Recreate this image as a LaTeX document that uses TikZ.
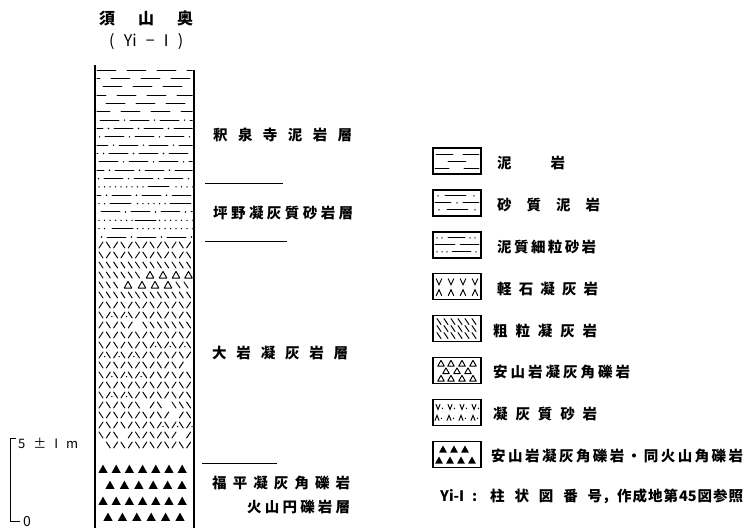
\documentclass[tikz,border=0pt]{standalone}
\usepackage{fontspec}
\setmainfont{Noto Sans CJK JP}
\usetikzlibrary{calc}

% pattern symbols: x, y
\newcommand\symL[2]{\draw[pat] ({#1-2},{#2+3}) -- ({#1+2},{#2-3});}
\newcommand\symB[2]{\draw[pat] ({#1-2},{#2-3}) -- ({#1+2},{#2+3});}
\newcommand\symP[2]{\symL{#1}{#2}\fill ({#1+3.6},{#2+1.5}) circle (0.75);}
\newcommand\symQ[2]{\symB{#1}{#2}\fill ({#1+3.6},{#2+1.5}) circle (0.75);}
\newcommand\symS[2]{}
% one row of tuff strokes: y, codes
\newcommand\vrow[2]{\foreach \sy [count=\i from 0] in {#2}{\csname sym\sy\endcsname{101+\i*7.3}{#1}}}
% mudstone row: y, phase, with dots (1/0)
\newcommand\mudrow[3]{\foreach \k in {-1,...,4}{%
  \draw[pat] ({97+#2+\k*30},#1) -- ++(19,0);
  \ifnum#3=1 \fill ({97+#2+\k*30+24.5},#1) circle (0.8);\fi}}
% fine sandstone row: y, first dash, second dash
\newcommand\finerow[3]{\foreach \k in {0,...,17}{%
  \pgfmathtruncatemacro\ondash{or(and(99+\k*5.5>#2-3,99+\k*5.5<#2+24),and(99+\k*5.5>#3-3,99+\k*5.5<#3+24))}
  \ifnum\ondash=0 \fill ({99+\k*5.5},#1) circle (0.75);\fi}
  \draw[pat] (#2,#1) -- ++(21,0);
  \draw[pat] (#3,#1) -- ++(21,0);}
% triangles: [half size] x, y
\newcommand\otri[3][3.8]{\draw[pat,line join=round] ({#2-#1},{#3+#1*0.8}) -- ({#2+#1},{#3+#1*0.8}) -- (#2,{#3-#1*0.95}) -- cycle;}
\newcommand\stri[3][4.6]{\fill ({#2-#1},{#3+#1*0.85}) -- ({#2+#1},{#3+#1*0.85}) -- (#2,{#3-#1*0.95}) -- cycle;}

\begin{document}
\begin{tikzpicture}[x=1pt,y=-1pt,
  pat/.style={line width=0.95pt,line cap=round},
  colline/.style={line width=1.8pt},
  divline/.style={line width=0.9pt},
  legbox/.style={line width=1.4pt},
  lbl/.style={inner sep=0pt,anchor=west,font=\fontsize{14.5}{16}\selectfont\bfseries},
  small/.style={inner sep=0pt,anchor=west,font=\fontsize{13}{15}\selectfont}]
\useasboundingbox (0,0) rectangle (748,528);

% heading
\node[lbl,font=\fontsize{16}{18}\selectfont\bfseries] (site) at (99,18) {\makebox[94pt][s]{須\hfill 山\hfill 奥}};
\node[lbl,font=\fontsize{16}{18}\selectfont] (code) at (109,42) {\makebox[74pt][s]{(\hfill Yi\hfill −\hfill I\hfill )}};

% column outline
\draw[colline] (95,65) -- (95,528);
\draw[colline] (194,70) -- (194,528);

\begin{scope}
\clip (96.6,60) rectangle (192.6,528);
% mudstone
\mudrow{70}{0}{0}
\mudrow{78.35}{14}{0}
\mudrow{86.7}{6}{0}
\mudrow{95.05}{20}{0}
\mudrow{103.4}{9}{0}
\mudrow{111.75}{24}{0}
% sandy mudstone / fine sandstone
\mudrow{120.1}{3}{1}
\mudrow{128.45}{17}{1}
\mudrow{136.8}{8}{1}
\mudrow{145.15}{22}{1}
\mudrow{153.5}{12}{1}
\mudrow{161.85}{2}{1}
\mudrow{170.2}{18}{1}
\mudrow{178.55}{7}{1}
\finerow{186.9}{148}{300}
\mudrow{195.25}{15}{1}
\finerow{203.6}{110}{170}
\mudrow{211.95}{4}{1}
\finerow{220.3}{135}{300}
\finerow{228.65}{112}{300}
\mudrow{237}{10}{1}
% tuffs
\vrow{245}{L,B,L,B,L,B,L,B,L,B,L,B,L}
\vrow{255}{B,L,B,L,B,L,B,L,B,L,B,L,B}
\vrow{265}{B,B,B,B,B,B,B,B,B,B,B,B,B}
\vrow{275}{B,B,B,B,B,B}
\otri{150}{275}\otri{163}{275}\otri{176}{275}\otri{188.5}{275}
\vrow{285}{B,B,B}
\otri{128}{285}\otri{142}{285}\otri{155}{285}\otri{168}{285}
\symB{178}{285}\symB{186}{285}
\vrow{295}{B,B,B,B,B,B,B,B,B,B,B,B,B}
\vrow{305}{L,B,L,B,L,B,L,B,L,B,L,B,L}
\vrow{315}{B,P,B,P,B,L,B,L,B,L,B,L,B}
\vrow{325}{L,B,L,B,L,S,B,B,B,B,B,B,B}
\vrow{335}{L,B,L,B,L,B,L,B,L,B,L,B,L}
\vrow{345}{B,L,B,L,B,L,B,P,B,P,B,P,B}
\vrow{355}{P,B,P,B,P,B,L,B,L,B,L,B,L}
\vrow{365}{B,L,B,L,B,L,B,L,B,L,B,L,S}
\vrow{375}{B,P,B,P,B,P,B,L,B,L,B,L,B}
\vrow{385}{L,B,L,B,L,B,L,B,L,B,L,B,L}
\vrow{395}{B,P,B,P,B,L,B,L,B,L,B,L,B}
\vrow{405}{L,B,L,B,L,B,S,L,B,S,B,B,B}
\vrow{415}{B,L,B,L,B,L,B,L,B,L,S,L,B}
\vrow{425}{L,B,L,B,L,B,L,B,P,B,P,B,P}
\vrow{435}{B,L,B,S,L,B,L,B,L,B,L,S,L}
\vrow{445}{S,B,L,B,L,B,L,B,L,B,L,B,L}
% tuff breccia
\foreach \k in {0,...,6}{\stri{103+\k*13.2}{469}}
\foreach \k in {0,...,5}{\stri{110+\k*14.4}{485}}
\foreach \k in {0,...,6}{\stri{103+\k*13.2}{501}}
\foreach \k in {0,...,5}{\stri{108+\k*14.4}{517}}
\end{scope}

% formation boundaries
\draw[divline] (205,183) -- (283,183);
\draw[divline] (205,241) -- (287,241);
\draw[divline] (202,463) -- (277,463);

% formation names
\node[lbl] (f1) at (213,135) {\makebox[139pt][s]{釈\hfill 泉\hfill 寺\hfill 泥\hfill 岩\hfill 層}};
\node[lbl] (f2) at (213,213) {\makebox[140pt][s]{坪\hfill 野\hfill 凝\hfill 灰\hfill 質\hfill 砂\hfill 岩\hfill 層}};
\node[lbl] (f3) at (212,353) {\makebox[136pt][s]{大\hfill 岩\hfill 凝\hfill 灰\hfill 岩\hfill 層}};
\node[lbl] (f4) at (212,483) {\makebox[138pt][s]{福\hfill 平\hfill 凝\hfill 灰\hfill 角\hfill 礫\hfill 岩}};
\node[lbl] (f4b) at (247,507) {\makebox[103pt][s]{火\hfill 山\hfill 円\hfill 礫\hfill 岩\hfill 層}};

% scale bar
\draw[line width=1pt] (16,438) -- (10,438) -- (10,521) -- (20,521);
\node[small] (s5) at (18,443) {\makebox[60pt][s]{5\hfill ±\hfill I\hfill m}};
\node[small,font=\fontsize{14}{15}\selectfont] (s0) at (23,522) {0};

% legend
\begin{scope}[shift={(433,148)}]
\draw[legbox] (0,0) rectangle (48,26);
\draw[pat] (3,6) -- (20,6) (30,6) -- (46,6) (15,13) -- (33,13) (2,20) -- (16,20) (31,20) -- (46,20);
\end{scope}
\begin{scope}[shift={(433,189.9)}]
\draw[legbox] (0,0) rectangle (48,26);
\draw[pat] (12,6) -- (33,6) (2,13) -- (18,13) (30,13) -- (46,13) (14,20) -- (35,20);
\foreach \p in {(5,6),(41,6),(24,13),(6,20),(42,20)} \fill \p circle (0.8);
\end{scope}
\begin{scope}[shift={(433,231.8)}]
\draw[legbox] (0,0) rectangle (48,26);
\draw[pat] (15,6) -- (32,6) (2,13) -- (22,13) (27,13) -- (46,13) (19,20) -- (38,20);
\foreach \p in {(4,6),(9,6),(37,6),(42,6),(4,20),(9,20),(14,20),(43,20)} \fill \p circle (0.75);
\end{scope}
\begin{scope}[shift={(433,273.7)}]
\draw[legbox] (0,0) rectangle (48,26);
\foreach \x in {6,18,30,42} {\draw[pat] ({\x-2.8},5) -- (\x,11) -- ({\x+2.8},5);}
\foreach \x in {6,18,30,42} {\draw[pat] ({\x-2.8},22) -- (\x,16) -- ({\x+2.8},22);}
\end{scope}
\begin{scope}[shift={(433,315.6)}]
\draw[legbox] (0,0) rectangle (48,26);
\foreach \y in {6,13,20} \foreach \x in {6,13,20,27,34,41} \draw[pat] ({\x-2},{\y-3}) -- ({\x+2},{\y+3});
\end{scope}
\begin{scope}[shift={(433,357.5)}]
\draw[legbox] (0,0) rectangle (48,26);
\foreach \x in {8,18,29,40} \otri[3.3]{\x}{6};
\foreach \x in {13,24,35} \otri[3.3]{\x}{13.5};
\foreach \x in {8,18,29,40} \otri[3.3]{\x}{21};
\end{scope}
\begin{scope}[shift={(433,399.4)}]
\draw[legbox] (0,0) rectangle (48,26);
\foreach \x in {5,17,29,41} {\draw[pat] ({\x-2},5) -- (\x,10) -- ({\x+2},5); \fill ({\x+4.5},9) circle (0.7);}
\foreach \x in {4,16,28,40} {\draw[pat] ({\x-2},21) -- (\x,16) -- ({\x+2},21); \fill ({\x+4.5},19) circle (0.7);}
\end{scope}
\begin{scope}[shift={(433,441.3)}]
\draw[legbox] (0,0) rectangle (48,26);
\foreach \x in {10,21,32} \stri[4]{\x}{8};
\foreach \x in {6,17,28,39} \stri[4]{\x}{19};
\end{scope}

\node[lbl] (l1) at (497,163) {\makebox[68pt][s]{泥\hfill 岩}};
\node[lbl] (l2) at (497,205) {\makebox[103pt][s]{砂\hfill 質\hfill 泥\hfill 岩}};
\node[lbl] (l3) at (497,247) {\makebox[99pt][s]{泥\hfill 質\hfill 細\hfill 粒\hfill 砂\hfill 岩}};
\node[lbl] (l4) at (497,289) {\makebox[101pt][s]{軽\hfill 石\hfill 凝\hfill 灰\hfill 岩}};
\node[lbl] (l5) at (493,331) {\makebox[104pt][s]{粗\hfill 粒\hfill 凝\hfill 灰\hfill 岩}};
\node[lbl] (l6) at (493,372) {\makebox[137pt][s]{安\hfill 山\hfill 岩\hfill 凝\hfill 灰\hfill 角\hfill 礫\hfill 岩}};
\node[lbl] (l7) at (493,414) {\makebox[104pt][s]{凝\hfill 灰\hfill 質\hfill 砂\hfill 岩}};
\node[lbl] (l8) at (491,456) {\makebox[252pt][s]{安\hfill 山\hfill 岩\hfill 凝\hfill 灰\hfill 角\hfill 礫\hfill 岩\hfill ・\hfill 同\hfill 火\hfill 山\hfill 角\hfill 礫\hfill 岩}};
\node[lbl] (n0) at (440,496) {\makebox[37pt][s]{Yi-I\hfill :}};
\node[lbl] (n1) at (490,496) {\makebox[112pt][s]{柱\hfill 状\hfill 図\hfill 番\hfill 号}，};
\node[lbl] (n2) at (617,496) {\makebox[126pt][s]{作\hfill 成\hfill 地\hfill 第\hfill 45\hfill 図\hfill 参\hfill 照}};
\end{tikzpicture}
\end{document}
